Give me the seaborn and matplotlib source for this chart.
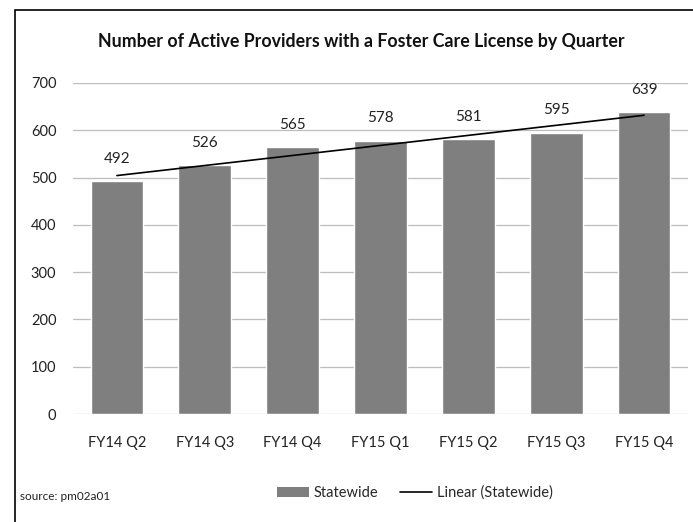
import matplotlib
matplotlib.use("Agg")
import matplotlib.pyplot as plt
from matplotlib.patches import Rectangle, Patch
from matplotlib.lines import Line2D
import numpy as np
import pandas as pd
import seaborn as sns

# data
quarters = ["FY14 Q2", "FY14 Q3", "FY14 Q4", "FY15 Q1", "FY15 Q2", "FY15 Q3", "FY15 Q4"]
providers = [492, 526, 565, 578, 581, 595, 639]
y_ticks = [0, 100, 200, 300, 400, 500, 600, 700]

df = pd.DataFrame({"quarter": quarters, "providers": providers})

sns.set_theme(style="white")
plt.rcParams["font.family"] = ["Lato", "DejaVu Sans"]

fig = plt.figure(figsize=(6.93, 5.22), dpi=100)
ax = fig.add_axes([73 / 693, 1 - 414 / 522, 615 / 693, 331 / 522])

sns.barplot(data=df, x="quarter", y="providers", color="#7f7f7f",
            saturation=1, width=0.6, ax=ax, zorder=2)

# linear trend line (like Excel's "Linear (Statewide)")
xs = np.arange(len(providers))
slope, intercept = np.polyfit(xs, providers, 1)
ax.plot(xs, slope * xs + intercept, color="black", lw=1.2, zorder=3)

# value labels
for i, v in enumerate(providers):
    ax.annotate(str(v), (i, v), xytext=(0, 11), textcoords="offset points",
                ha="center", va="bottom", fontsize=11, color="#222222")

ax.set_ylim(0, 700)
ax.set_xlim(-0.5, len(quarters) - 0.5)
ax.set_yticks(y_ticks)
ax.yaxis.grid(True, color="#bdbdbd", lw=0.9, zorder=0)
ax.set_axisbelow(True)
for s in ax.spines.values():
    s.set_visible(False)
ax.set_xlabel("")
ax.set_ylabel("")
ax.tick_params(axis="both", length=0, labelsize=10.5, colors="#222222")
ax.tick_params(axis="y", pad=12)
ax.tick_params(axis="x", pad=16)

fig.text(361 / 693, 1 - 42 / 522, "Number of Active Providers with a Foster Care License by Quarter",
         ha="center", va="center", fontsize=12.8, fontweight="bold", color="#111111")

handles = [Patch(facecolor="#7f7f7f", edgecolor="none"),
           Line2D([0], [0], color="black", lw=1.2)]
fig.legend(handles, ["Statewide", "Linear (Statewide)"], loc="center",
           bbox_to_anchor=(415 / 693, 1 - 493 / 522), ncol=2, frameon=False,
           fontsize=10.5, handlelength=2.2, columnspacing=1.5, handletextpad=0.3)

fig.text(20 / 693, 1 - 497 / 522, "source: pm02a01", ha="left", va="center",
         fontsize=8.5, color="#222222")

# outer frame
fig.patches.append(Rectangle((15 / 693, -0.05), 1.0, 1 - 10 / 522 + 0.05,
                             transform=fig.transFigure, fill=False,
                             edgecolor="black", lw=1.2))

fig.savefig("out.png", dpi=100)
